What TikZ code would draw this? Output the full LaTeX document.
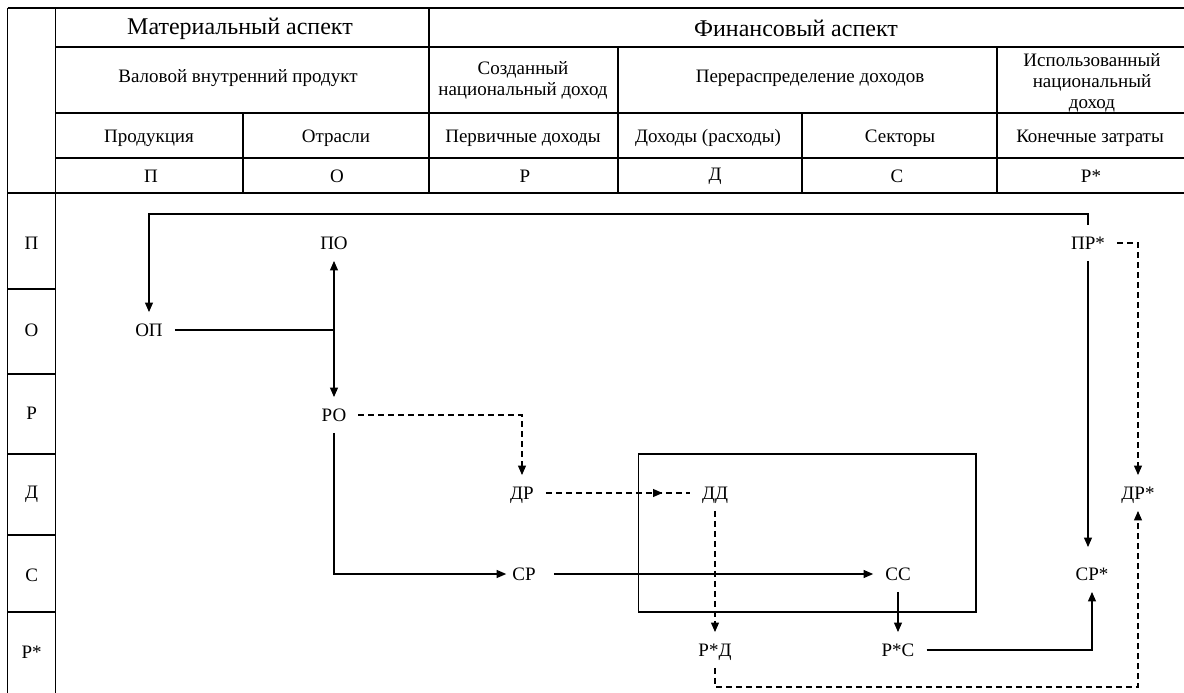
\documentclass[tikz,border=0pt]{standalone}
\usepackage{fontspec}
\setmainfont{Liberation Serif}
\usetikzlibrary{arrows.meta,decorations.markings}
\begin{document}
\begin{tikzpicture}[x=1pt,y=-1pt,
  tl/.style={line width=1.1pt},
  plain/.style={line width=1.1pt},
  conn/.style={line width=1.1pt,-{Triangle[length=9.5pt,width=8pt]}},
  dsh/.style={dash pattern=on 6pt off 4pt},
  lbl/.style={font=\fontsize{19}{21}\selectfont,inner xsep=12pt,inner ysep=11.5pt,text height=12.5pt,text depth=0pt},
  hd/.style={font=\fontsize{19}{21}\selectfont,align=center,inner sep=0pt},
  hdbig/.style={font=\fontsize{24}{27}\selectfont,inner sep=0pt}
]
\useasboundingbox (0,0) rectangle (1184,693);
% table lines
\draw[tl] (7.7,8) -- (1184,8);
\draw[tl] (55.5,47) -- (1184,47);
\draw[tl] (55.5,113) -- (1184,113);
\draw[tl] (55.5,158) -- (1184,158);
\draw[tl] (7.7,193) -- (1184,193);
\draw[tl] (7.7,8) -- (7.7,693);
\draw[tl] (55.5,8) -- (55.5,693);
\draw[tl] (429,8) -- (429,193);
\draw[tl] (243,113) -- (243,193);
\draw[tl] (618,47) -- (618,193);
\draw[tl] (802,113) -- (802,193);
\draw[tl] (997,47) -- (997,193);
\foreach \yy in {289,374,454,535,612} \draw[tl] (7.7,\yy) -- (55.5,\yy);
% header texts
\node[hdbig] (hMat) at (240,29) {Материальный аспект};
\node[hdbig] (hFin) at (796,28) {Финансовый аспект};
\node[hd] (hVVP) at (238,78) {Валовой внутренний продукт};
\node[hd] (hSND) at (523,80) {Созданный\\национальный доход};
\node[hd] (hPer) at (810,78) {Перераспределение доходов};
\node[hd] (hIsp) at (1092,83) {Использованный\\национальный\\доход};
\node[hd] (c1) at (149,138) {Продукция};
\node[hd] (c2) at (336,138) {Отрасли};
\node[hd] (c3) at (523,138) {Первичные доходы};
\node[hd] (c4) at (708,138) {Доходы (расходы)};
\node[hd] (c5) at (900,138) {Секторы};
\node[hd] (c6) at (1090,138) {Конечные затраты};
\node[hd] (k1) at (151,176) {П};
\node[hd] (k2) at (337,176) {О};
\node[hd] (k3) at (525,176) {Р};
\node[hd] (k4) at (715,176) {Д};
\node[hd] (k5) at (897,176) {С};
\node[hd] (k6) at (1091,176) {Р*};
% left column
\node[hd] (r1) at (31.6,243) {П};
\node[hd] (r2) at (31.6,330) {О};
\node[hd] (r3) at (31.6,413) {Р};
\node[hd] (r4) at (31.6,494) {Д};
\node[hd] (r5) at (31.6,575) {С};
\node[hd] (r6) at (31.6,652) {Р*};
% frame
\draw[line width=1.3pt] (638.5,454) rectangle (976,612);
% diagram nodes
\node[lbl] (PO) at (334,243) {ПО};
\node[lbl] (OP) at (149,330) {ОП};
\node[lbl] (RO) at (334,415) {РО};
\node[lbl] (DR) at (522,493) {ДР};
\node[lbl] (SR) at (524,574) {СР};
\node[lbl] (DD) at (715,493) {ДД};
\node[lbl] (SS) at (898,574) {СС};
\node[lbl] (RsD) at (715,650) {Р*Д};
\node[lbl] (RsS) at (898,650) {Р*С};
\node[lbl] (PRs) at (1088,243) {ПР*};
\node[lbl] (SRs) at (1092,574) {СР*};
\node[lbl] (DRs) at (1138,493) {ДР*};
\coordinate (topc) at (149,214);
\coordinate (botc) at (1138,687);
% connectors
\draw[conn] (PRs.north) |- (topc) -- (OP.north);
\draw[plain,{Triangle[length=9.5pt,width=8pt]}-{Triangle[length=9.5pt,width=8pt]}] (PO.south) -- (RO.north);
\draw[plain] (OP.east) -- (OP.east -| PO.south);
\draw[conn,dsh] (RO.east) -| (DR.north);
\draw[conn,shorten >=-6pt] (RO.south) |- (SR.west);
\draw[plain,dsh,postaction={decorate},decoration={markings,mark=at position 0.81 with {\arrow{Triangle[length=9.5pt,width=8pt]}}}] (DR.east) -- (DD.west);
\draw[conn,dsh] (DD.south) -- (RsD.north);
\draw[conn,shorten <=6pt] (SR.east) -- (SS.west);
\draw[conn] (SS.south) -- (RsS.north);
\draw[conn] (RsS.east) -| (SRs.south);
\draw[conn,shorten >=9pt] (PRs.south) -- (PRs.south |- SRs.north);
\draw[conn,dsh] (PRs.east) -| (DRs.north);
\draw[conn,dsh] (RsD.south) |- (botc) -- (DRs.south);
\end{tikzpicture}
\end{document}
